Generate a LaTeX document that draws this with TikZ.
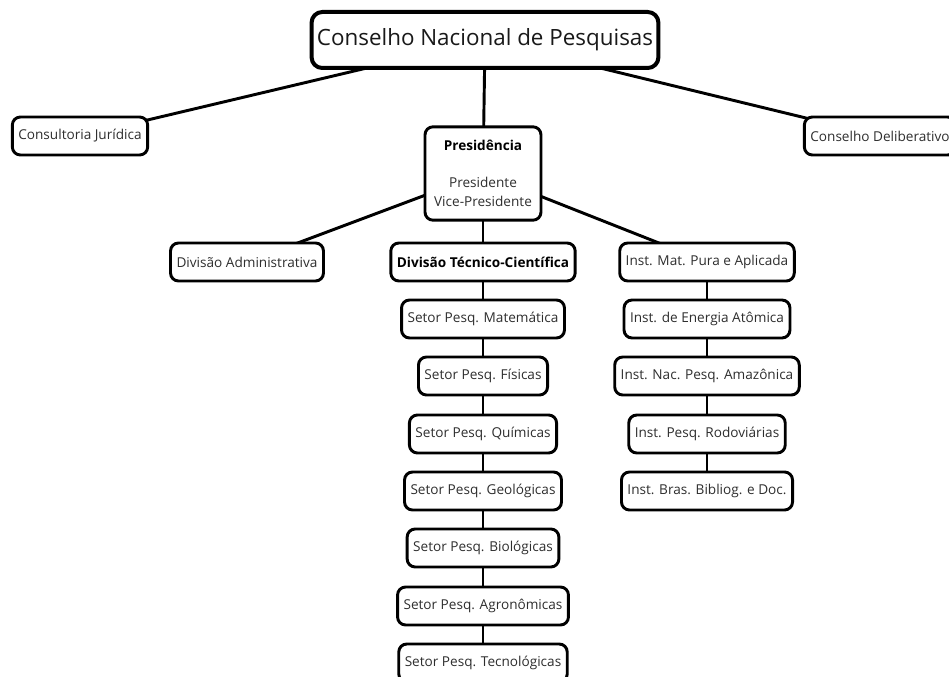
\documentclass[tikz,border=0pt]{standalone}
\usepackage{fontspec}
\setmainfont{Open Sans}
\usetikzlibrary{backgrounds}

\begin{document}
\begin{tikzpicture}[line cap=round,line join=round,x=0.75pt,y=-0.75pt,
    caixa/.style={draw,line width=2.2pt,rounded corners=6pt,fill=white,text=black!82,
        minimum height=28.5pt,inner xsep=4.5pt,font=\fontsize{10.2}{12}\selectfont},
    ligacao/.style={line width=2.2pt}]

    \clip (0,0) rectangle (949,677);

    \node[caixa,line width=3pt,rounded corners=8pt,minimum height=42pt,inner xsep=4pt,
        text=black!90,font=\fontsize{16.8}{20}\selectfont] (cnp) at (485,40) {Conselho Nacional de Pesquisas};
    \node[caixa] (juridica) at (80,136) {Consultoria Jurídica};
    \node[caixa] (deliberativo) at (880,136) {Conselho Deliberativo};

    \node[caixa,align=center,minimum width=87pt,minimum height=70pt,
        font=\fontsize{10.2}{14.2}\selectfont] (presidencia) at (483,173.5)
        {\textcolor{black}{\textbf{Presidência}}\\[14pt]Presidente\\Vice-Presidente};

    \node[caixa] (administrativa) at (247,262) {Divisão Administrativa};
    \node[caixa,text=black,font=\fontsize{10.2}{12}\selectfont\bfseries] (tecnica) at (483,262) {Divisão Técnico-Científica};
    \node[caixa] (matpura) at (707,262) {Inst. Mat. Pura e Aplicada};

    % setores de pesquisa
    \node[caixa] (matematica) at (483,319) {Setor Pesq. Matemática};
    \node[caixa] (fisicas) at (483,376) {Setor Pesq. Físicas};
    \node[caixa] (quimicas) at (483,434) {Setor Pesq. Químicas};
    \node[caixa] (geologicas) at (483,491) {Setor Pesq. Geológicas};
    \node[caixa] (biologicas) at (483,548) {Setor Pesq. Biológicas};
    \node[caixa] (agronomicas) at (483,606) {Setor Pesq. Agronômicas};
    \node[caixa] (tecnologicas) at (483,663) {Setor Pesq. Tecnológicas};

    % institutos
    \node[caixa] (energia) at (707,319) {Inst. de Energia Atômica};
    \node[caixa] (amazonica) at (707,376) {Inst. Nac. Pesq. Amazônica};
    \node[caixa] (rodoviarias) at (707,434) {Inst. Pesq. Rodoviárias};
    \node[caixa] (bibliog) at (707,491) {Inst. Bras. Bibliog. e Doc.};

    \begin{pgfonlayer}{background}
    \draw[ligacao] (cnp.center) -- (juridica.center);
    \draw[ligacao] (cnp.center) -- (deliberativo.center);
    \draw[ligacao] (cnp.center) -- (presidencia.center);

    \draw[ligacao] (presidencia.center) -- (administrativa.center);
    \draw[ligacao] (presidencia.center) -- (tecnica.center);
    \draw[ligacao] (presidencia.center) -- (matpura.center);

    \draw[ligacao] (tecnica) -- (matematica);
    \draw[ligacao] (matematica) -- (fisicas);
    \draw[ligacao] (fisicas) -- (quimicas);
    \draw[ligacao] (quimicas) -- (geologicas);
    \draw[ligacao] (geologicas) -- (biologicas);
    \draw[ligacao] (biologicas) -- (agronomicas);
    \draw[ligacao] (agronomicas) -- (tecnologicas);

    \draw[ligacao] (matpura) -- (energia);
    \draw[ligacao] (energia) -- (amazonica);
    \draw[ligacao] (amazonica) -- (rodoviarias);
    \draw[ligacao] (rodoviarias) -- (bibliog);
    \end{pgfonlayer}
\end{tikzpicture}
\end{document}
